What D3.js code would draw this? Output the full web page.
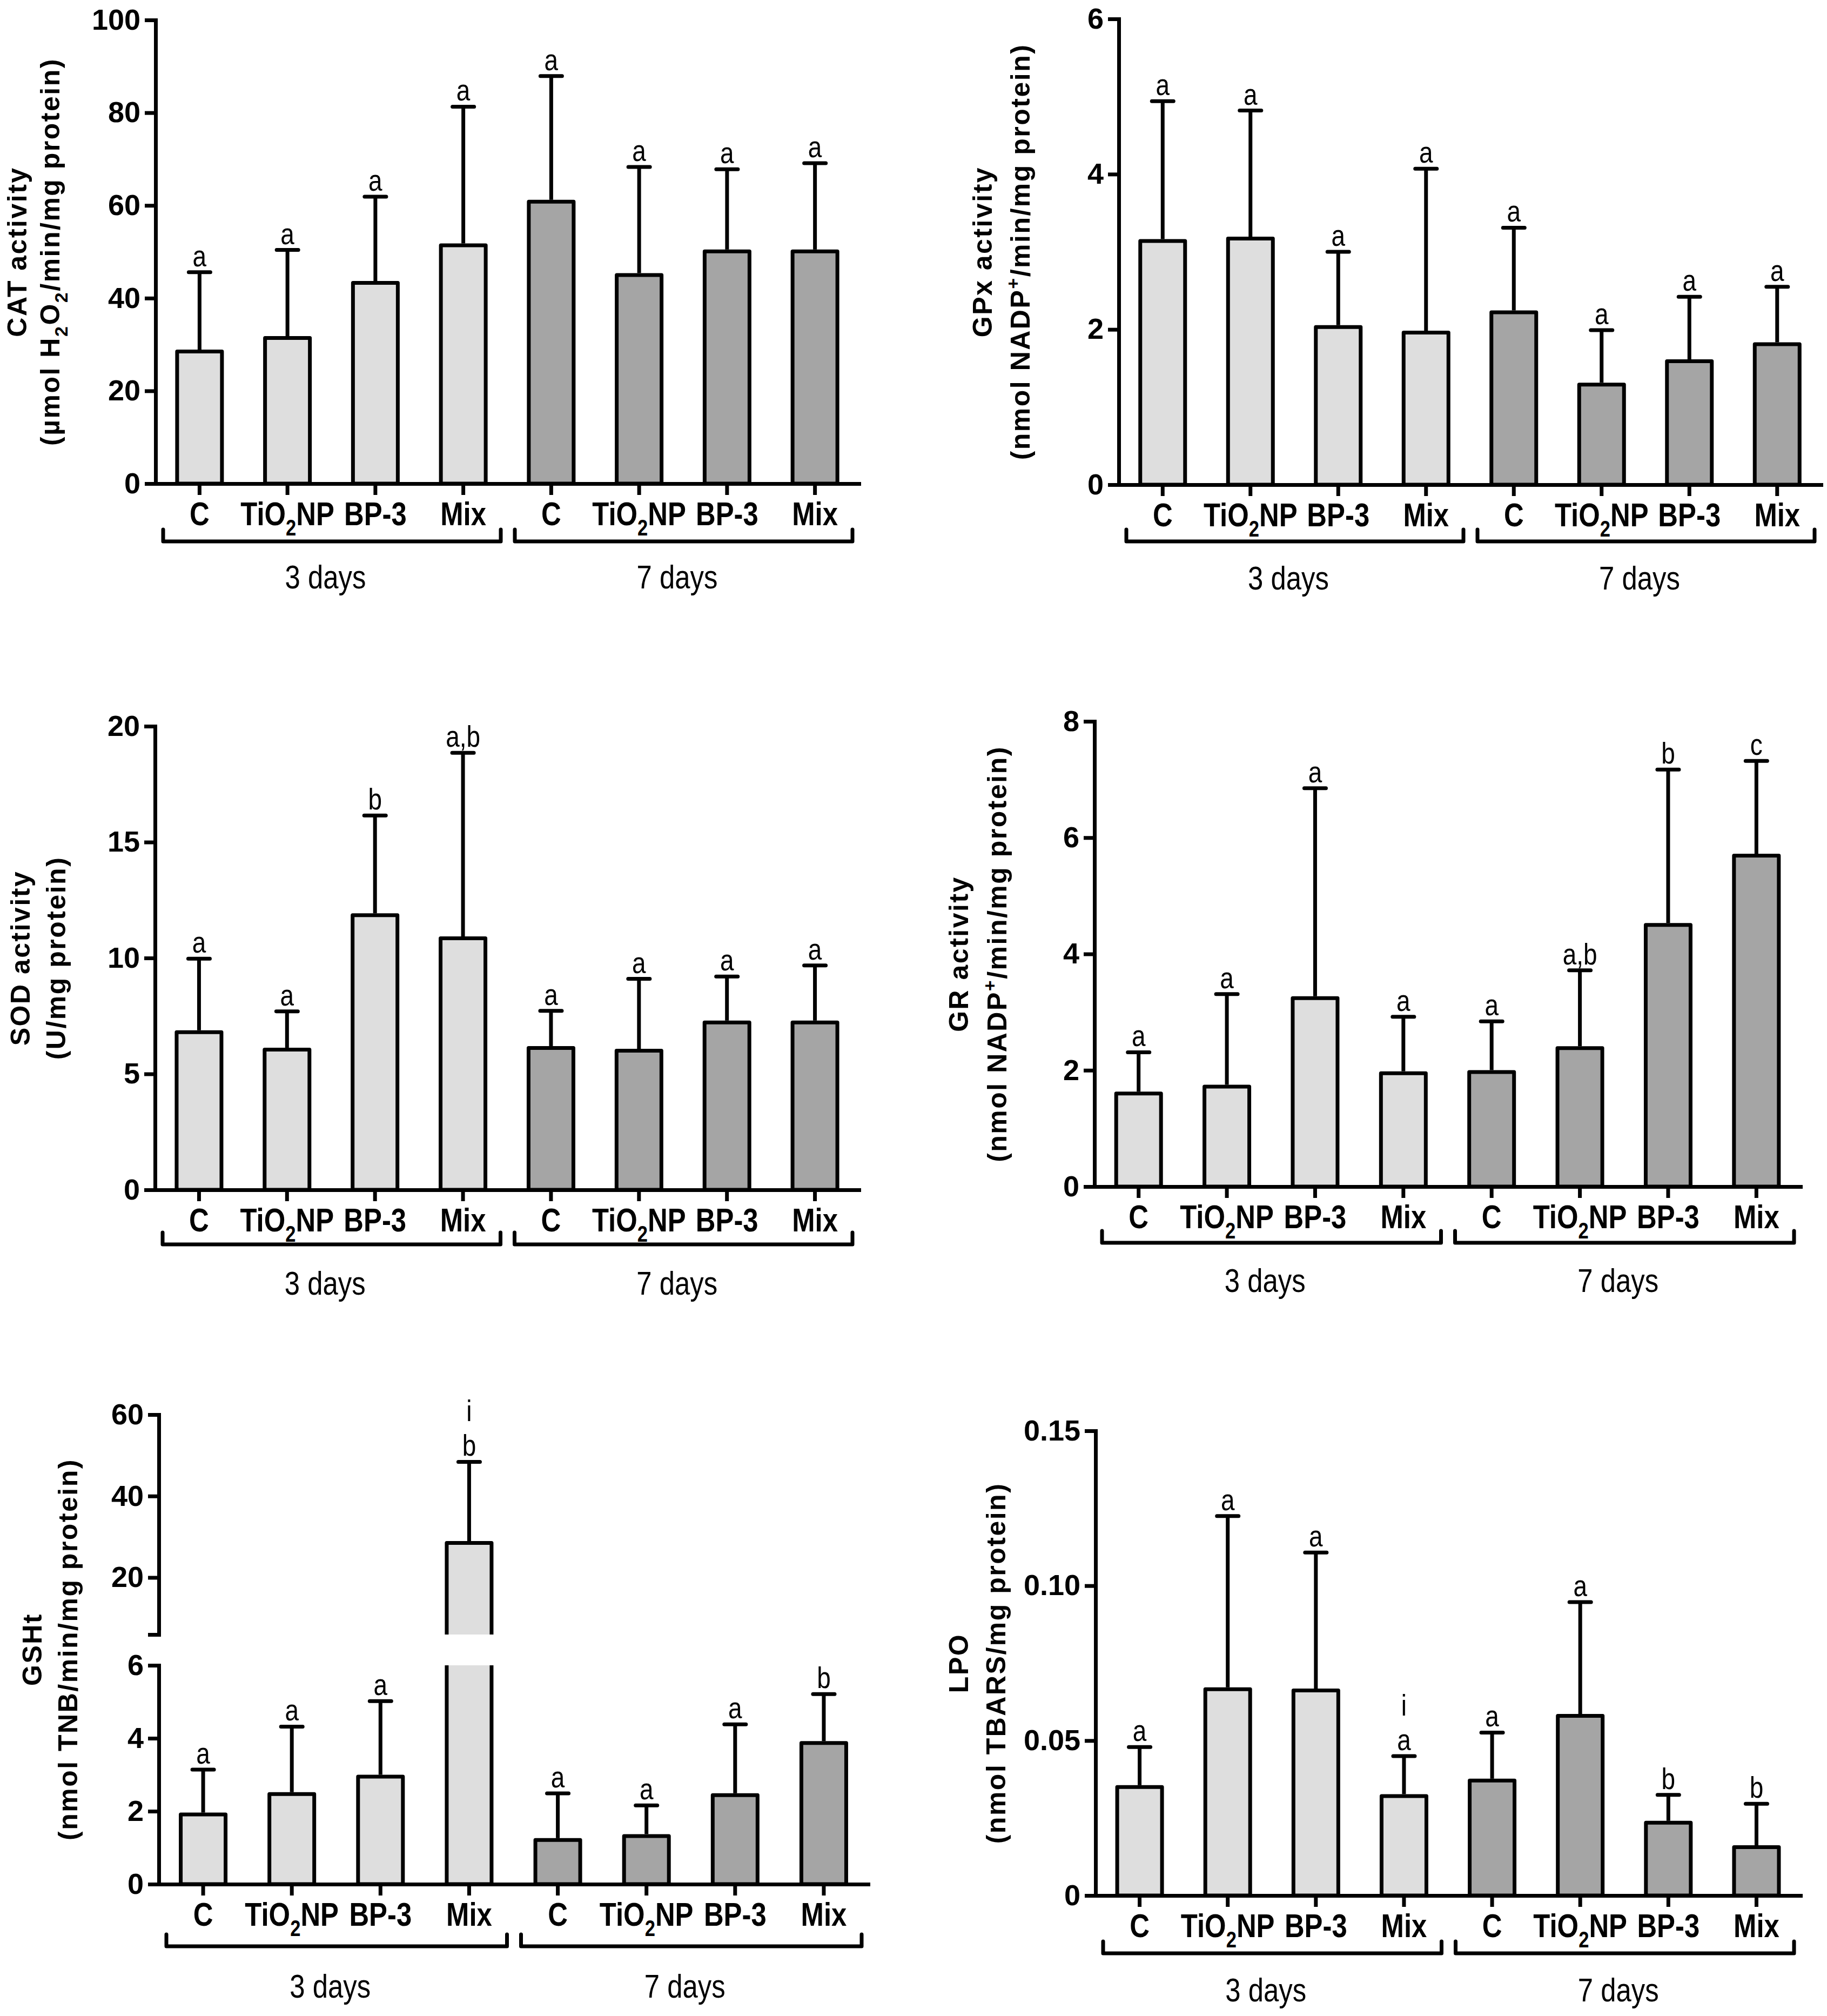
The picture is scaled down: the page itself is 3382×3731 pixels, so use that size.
<!DOCTYPE html>
<html>
<head>
<meta charset="utf-8">
<script src="https://cdn.jsdelivr.net/npm/d3@7"></script>
<style>
  body { margin: 0; background: #fff; }
  text { font-family: "Liberation Sans", Arial, sans-serif; fill: #000; }
</style>
</head>
<body>
<svg id="fig" width="3382" height="3731"></svg>
<script>
// ---- data ----
const treatments = ["C", "TiO_2NP", "BP-3", "Mix"];
const periods = ["3 days", "7 days"];

const catMean = [28.5, 31.4, 43.3, 51.4, 60.8, 45.0, 50.1, 50.1];
const catTop  = [45.6, 50.4, 61.9, 81.3, 87.9, 68.3, 67.8, 69.1];
const catSig  = ["a", "a", "a", "a", "a", "a", "a", "a"];
const catTicks = [0, 20, 40, 60, 80, 100];

const gpxMean = [3.14, 3.17, 2.03, 1.96, 2.22, 1.29, 1.59, 1.81];
const gpxTop  = [4.94, 4.82, 3.00, 4.07, 3.31, 1.99, 2.42, 2.55];
const gpxSig  = ["a", "a", "a", "a", "a", "a", "a", "a"];
const gpxTicks = [0, 2, 4, 6];

const sodMean = [6.80, 6.05, 11.85, 10.85, 6.12, 6.00, 7.22, 7.22];
const sodTop  = [9.97, 7.70, 16.15, 18.85, 7.72, 9.10, 9.20, 9.68];
const sodSig  = ["a", "a", "b", "a,b", "a", "a", "a", "a"];
const sodTicks = [0, 5, 10, 15, 20];

const grMean = [1.60, 1.72, 3.24, 1.95, 1.97, 2.38, 4.50, 5.69];
const grTop  = [2.31, 3.31, 6.85, 2.92, 2.84, 3.72, 7.17, 7.32];
const grSig  = ["a", "a", "a", "a", "a", "a,b", "b", "c"];
const grTicks = [0, 2, 4, 6, 8];

const gshMean = [1.91, 2.47, 2.95, 28.5, 1.21, 1.32, 2.44, 3.87];
const gshTop  = [3.14, 4.32, 5.02, 48.4, 2.49, 2.16, 4.38, 5.21];
const gshSig  = ["a", "a", "a", "i\nb", "a", "a", "a", "b"];
const gshTicksLow = [0, 2, 4, 6];
const gshTicksHigh = [6, 20, 40, 60];

const lpoMean = [0.0350, 0.0666, 0.0662, 0.0321, 0.0371, 0.0580, 0.0235, 0.0156];
const lpoTop  = [0.0479, 0.1225, 0.1107, 0.0450, 0.0526, 0.0947, 0.0325, 0.0296];
const lpoSig  = ["a", "a", "a", "i\na", "a", "a", "b", "b"];
const lpoTicks = [0, 0.05, 0.10, 0.15];

// ---- layout ----
const LIGHT = "#dedede", DARK = "#a5a5a5";
const SW = 7;          // stroke width of all lines
const BAR_W = 83;      // bar width (plus stroke)
const NARROW = 0.82;   // horizontal squeeze to get an Arial Narrow look

const panels = [
  { mean: catMean, top: catTop, sig: catSig, ticks: catTicks, domain: [0, 100],
    title: ["CAT activity", "(µmol H_2O_2/min/mg protein)"],
    x0: 288, x1: 1590, y0: 895, y1: 37, tx: [49, 110], br: 107, lb: 172 },
  { mean: gpxMean, top: gpxTop, sig: gpxSig, ticks: gpxTicks, domain: [0, 6],
    title: ["GPx activity", "(nmol NADP^+/min/mg protein)"],
    x0: 2071, x1: 3371, y0: 897, y1: 35, tx: [1836, 1906], br: 105, lb: 172 },
  { mean: sodMean, top: sodTop, sig: sodSig, ticks: sodTicks, domain: [0, 20],
    title: ["SOD activity", "(U/mg protein)"],
    x0: 287, x1: 1590, y0: 2202, y1: 1344, tx: [55, 121], br: 101, lb: 172 },
  { mean: grMean, top: grTop, sig: grSig, ticks: grTicks, domain: [0, 8],
    title: ["GR activity", "(nmol NADP^+/min/mg protein)"],
    x0: 2026, x1: 3333, y0: 2196, y1: 1335, tx: [1792, 1863], br: 104, lb: 173 },
  { mean: gshMean, top: gshTop, sig: gshSig, ticks: gshTicksLow, domain: [0, 6],
    title: ["GSHt", "(nmol TNB/min/mg protein)"],
    x0: 294, x1: 1607, y0: 3487, y1: 3082, tx: [77, 143], br: 115, lb: 188,
    high: { ticks: gshTicksHigh, domain: [6, 60], y0: 3025, y1: 2618 } },
  { mean: lpoMean, top: lpoTop, sig: lpoSig, ticks: lpoTicks, domain: [0, 0.15],
    title: ["LPO", "(nmol TBARS/mg protein)"],
    x0: 2028, x1: 3333, y0: 3508, y1: 2648, tx: [1792, 1861], br: 107, lb: 174,
    fmt: d => d === 0 ? "0" : d3.format(".2f")(d) },
];

const svg = d3.select("#fig");

// "_x" -> subscript x, "^x" -> superscript x
function rich(textSel, str, fs) {
  const parts = str.split(/([_^].)/).filter(s => s.length);
  let shift = 0;
  parts.forEach(s => {
    const t = textSel.append("tspan");
    let want = 0;
    if (s[0] === "_") { want = 0.3 * fs; s = s.slice(1); t.attr("font-size", fs * 0.68); }
    else if (s[0] === "^") { want = -0.38 * fs; s = s.slice(1); t.attr("font-size", fs * 0.68); }
    t.attr("dy", want - shift).text(s);
    shift = want;
  });
}

function narrowText(g, x, y, str, fs, weight) {
  const t = g.append("text")
    .attr("transform", `translate(${x},${y}) scale(${NARROW},1)`)
    .attr("text-anchor", "middle")
    .attr("font-size", fs)
    .attr("font-weight", weight);
  rich(t, str, fs);
  return t;
}

function styleAxis(ax) {
  ax.attr("font-size", 54).attr("font-weight", "bold")
    .attr("font-family", '"Liberation Sans", Arial, sans-serif');
  ax.select(".domain").attr("stroke-width", SW).attr("stroke-linecap", "square");
  ax.selectAll(".tick line").attr("stroke-width", SW);
  ax.selectAll(".tick text").attr("fill", "#000");
}

function drawPanel(p) {
  const g = svg.append("g");
  const idx = d3.range(p.mean.length);
  const x = d3.scaleBand().domain(idx).range([p.x0, p.x1]);
  const cx = i => x(i) + x.bandwidth() / 2;
  const yLow = d3.scaleLinear().domain(p.domain).range([p.y0, p.y1]);
  const yHigh = p.high ? d3.scaleLinear().domain(p.high.domain).range([p.high.y0, p.high.y1]) : null;
  const inHigh = v => p.high && v > p.domain[1];
  const y = v => inHigh(v) ? yHigh(v) : yLow(v);
  const fmt = p.fmt || (d => d);

  // y axis (one or two segments)
  const axL = g.append("g").attr("transform", `translate(${p.x0},0)`)
    .call(d3.axisLeft(yLow).tickValues(p.ticks).tickFormat(fmt)
      .tickSize(20).tickSizeOuter(0).tickPadding(8));
  styleAxis(axL);
  if (p.high) {
    const axH = g.append("g").attr("transform", `translate(${p.x0},0)`)
      .call(d3.axisLeft(yHigh).tickValues(p.high.ticks)
        .tickFormat(d => d === p.high.domain[0] ? "" : d)
        .tickSize(20).tickSizeOuter(0).tickPadding(8));
    styleAxis(axH);
  }

  // bars
  idx.forEach(i => {
    const v = p.mean[i];
    const fill = i < 4 ? LIGHT : DARK;
    const xl = cx(i) - BAR_W / 2, xr = cx(i) + BAR_W / 2;
    if (!inHigh(v)) {
      g.append("rect").attr("x", xl).attr("y", yLow(v))
        .attr("width", BAR_W).attr("height", p.y0 - yLow(v))
        .attr("fill", fill).attr("stroke", "#000").attr("stroke-width", SW)
        .attr("stroke-linejoin", "round");
    } else {
      // broken bar: lower piece open at the top, upper piece open at the bottom
      g.append("rect").attr("x", xl).attr("y", p.y1)
        .attr("width", BAR_W).attr("height", p.y0 - p.y1).attr("fill", fill);
      g.append("path").attr("d", `M${xl},${p.y1}V${p.y0}H${xr}V${p.y1}`)
        .attr("fill", "none").attr("stroke", "#000").attr("stroke-width", SW);
      g.append("rect").attr("x", xl).attr("y", yHigh(v))
        .attr("width", BAR_W).attr("height", p.high.y0 - yHigh(v)).attr("fill", fill);
      g.append("path").attr("d", `M${xl},${p.high.y0}V${yHigh(v)}H${xr}V${p.high.y0}`)
        .attr("fill", "none").attr("stroke", "#000").attr("stroke-width", SW)
        .attr("stroke-linejoin", "round");
    }
  });

  // upward error bars with significance letters
  idx.forEach(i => {
    const yt = y(p.top[i]);
    g.append("line").attr("x1", cx(i)).attr("x2", cx(i))
      .attr("y1", y(p.mean[i]) - SW / 2).attr("y2", yt)
      .attr("stroke", "#000").attr("stroke-width", SW);
    g.append("line").attr("x1", cx(i) - 20).attr("x2", cx(i) + 20)
      .attr("y1", yt).attr("y2", yt)
      .attr("stroke", "#000").attr("stroke-width", SW).attr("stroke-linecap", "round");
    const lines = p.sig[i].split("\n");
    lines.forEach((s, k) => {
      narrowText(g, cx(i), yt - 11 - (lines.length - 1 - k) * 64, s, 56, "normal");
    });
  });

  // x axis
  const axB = g.append("g").attr("transform", `translate(0,${p.y0})`)
    .call(d3.axisBottom(x).tickSize(21).tickSizeOuter(0).tickFormat(""));
  axB.select(".domain").attr("stroke-width", SW).attr("stroke-linecap", "square");
  axB.selectAll(".tick line").attr("stroke-width", SW);

  idx.forEach(i => {
    narrowText(g, cx(i), p.y0 + 77, treatments[i % 4], 62, "bold");
  });

  // group brackets and period labels
  periods.forEach((lab, k) => {
    const a = x(k * 4) + 14, b = x(k * 4 + 3) + x.bandwidth() - 12;
    const yb = p.y0 + p.br;
    g.append("path").attr("d", `M${a},${yb - 22}V${yb}H${b}V${yb - 22}`)
      .attr("fill", "none").attr("stroke", "#000").attr("stroke-width", SW)
      .attr("stroke-linecap", "round").attr("stroke-linejoin", "round");
    narrowText(g, (a + b) / 2 - 12, p.y0 + p.lb + 22, lab, 62, "normal");
  });

  // rotated two-line y title
  const yTop = p.high ? p.high.y1 : p.y1;
  const cy = (p.y0 + yTop) / 2;
  p.title.forEach((s, k) => {
    const t = g.append("text")
      .attr("transform", `translate(${p.tx[k]},${cy}) rotate(-90)`)
      .attr("text-anchor", "middle")
      .attr("dy", "0.36em")
      .attr("font-size", 50)
      .attr("font-weight", "bold")
      .attr("letter-spacing", 2.5);
    rich(t, s, 50);
  });
}

panels.forEach(drawPanel);
</script>
</body>
</html>
